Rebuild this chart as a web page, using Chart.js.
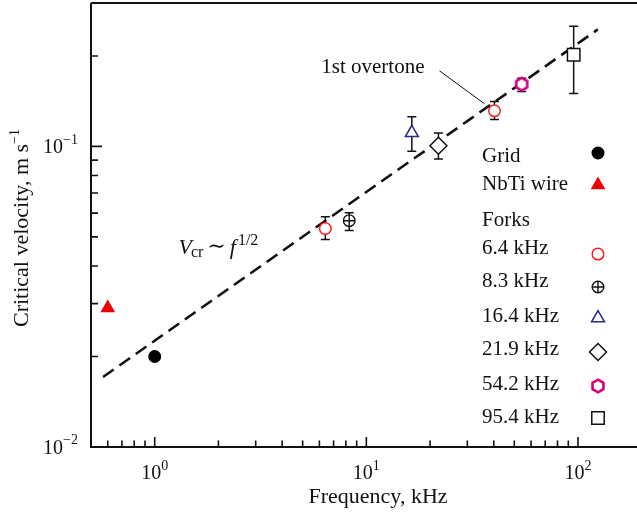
<!DOCTYPE html>
<html>
<head>
<meta charset="utf-8">
<script src="https://cdn.jsdelivr.net/npm/chart.js@4.4.1/dist/chart.umd.min.js"></script>
<style>
  html, body { margin: 0; padding: 0; background: #fff; }
  canvas { display: block; }
</style>
</head>
<body>
<canvas id="c" width="637" height="513"></canvas>
<script>
// Critical velocity against oscillation frequency (log–log)
const gridFreq = [1.0];
const gridVel = [0.020];
const wireFreq = [0.6];
const wireVel = [0.029];

const forkLabels = ['6.4 kHz', '8.3 kHz', '16.4 kHz', '21.9 kHz', '54.2 kHz', '95.4 kHz'];
const forkFreq = [6.4, 8.3, 16.4, 21.9, 54.2, 95.4];
const forkVel  = [0.0533, 0.0566, 0.111, 0.1005, 0.161, 0.2017];
const forkLow  = [0.049, 0.0525, 0.0963, 0.0908, 0.1523, 0.150];
const forkHigh = [0.0584, 0.0602, 0.1256, 0.1108, 0.1687, 0.2512];

// first overtone of the 6.4 kHz fork
const overtoneFreq = [40.3];
const overtoneVel  = [0.1314];
const overtoneLow  = [0.1229];
const overtoneHigh = [0.141];

// V_cr ~ f^(1/2) guide line
const fitFreq = [0.57, 124];
const fitVel  = [0.0171, 0.245];

const xTickExps = [0, 1, 2];
const yTickExps = [-2, -1];
const xLimits = [0.5, 190];
const yLimits = [0.01, 0.3];

const FONT = '"Liberation Serif", "Times New Roman", "DejaVu Serif", serif';
const INK = '#111';
const RED = '#ff1f1f';
const NAVY = '#2a2a8a';
const MAGENTA = '#d4007f';

function pts(xs, ys) { return xs.map((x, i) => ({ x: x, y: ys[i] })); }

// custom marker: hexagon
function makeHexagon() {
  const s = 20, c = document.createElement('canvas');
  c.width = s; c.height = s;
  const g = c.getContext('2d');
  g.strokeStyle = MAGENTA; g.lineWidth = 2.6; g.fillStyle = '#fff';
  g.beginPath();
  for (let i = 0; i < 6; i++) {
    const a = -Math.PI / 2 + i * Math.PI / 3;
    const px = s / 2 + 6.3 * Math.cos(a), py = s / 2 + 6.3 * Math.sin(a);
    if (i === 0) g.moveTo(px, py); else g.lineTo(px, py);
  }
  g.closePath(); g.fill(); g.stroke();
  return c;
}
const hexagon = makeHexagon();

// each fork marker is one or more stacked point styles
const forkStyles = [
  [{ pointStyle: 'circle',   radius: 5.8, borderColor: RED,  backgroundColor: '#fff', borderWidth: 1.5 }],
  [{ pointStyle: 'circle',   radius: 5.8, borderColor: '#111', backgroundColor: '#fff', borderWidth: 1.4 },
   { pointStyle: 'cross',    radius: 5.8, borderColor: '#111', backgroundColor: '#fff', borderWidth: 1.4 }],
  [{ pointStyle: 'triangle', radius: 7.5, borderColor: NAVY, backgroundColor: '#fff', borderWidth: 1.5 }],
  [{ pointStyle: 'rectRot',  radius: 8.5, borderColor: '#111', backgroundColor: '#fff', borderWidth: 1.5 }],
  [{ pointStyle: hexagon,    radius: 7,   borderColor: MAGENTA, backgroundColor: '#fff', borderWidth: 0 }],
  [{ pointStyle: 'rect',     radius: 8.8, borderColor: '#111', backgroundColor: '#fff', borderWidth: 1.5 }]
];
const gridStyle = [{ pointStyle: 'circle', radius: 6.5, borderColor: '#000', backgroundColor: '#000', borderWidth: 0 }];
const wireStyle = [{ pointStyle: 'triangle', radius: 8.5, borderColor: '#ee0000', backgroundColor: '#ee0000', borderWidth: 0 }];

function markerDataset(label, data, st, order) {
  return {
    label: label, data: data, showLine: false, order: order,
    pointStyle: st.pointStyle, pointRadius: st.radius, pointHoverRadius: st.radius,
    pointBorderColor: st.borderColor, pointBackgroundColor: st.backgroundColor,
    pointBorderWidth: st.borderWidth
  };
}

const datasets = [
  {
    label: 'fit', data: pts(fitFreq, fitVel), showLine: true, pointRadius: 0,
    borderColor: '#111', borderWidth: 2.6, borderDash: [13, 7], order: 20
  }
];
function addSeries(label, data, layers) {
  layers.forEach((st, j) => datasets.push(markerDataset(label, data, st, 2 - j)));
}
addSeries('Grid', pts(gridFreq, gridVel), gridStyle);
addSeries('NbTi wire', pts(wireFreq, wireVel), wireStyle);
forkFreq.forEach((f, i) => addSeries(forkLabels[i], [{ x: f, y: forkVel[i] }], forkStyles[i]));
addSeries('1st overtone', pts(overtoneFreq, overtoneVel), forkStyles[0]);

const errorSets = [
  { freq: forkFreq, low: forkLow, high: forkHigh },
  { freq: overtoneFreq, low: overtoneLow, high: overtoneHigh }
];

// superscript text helper
function textWithSup(ctx, base, sup, x, y, align, baseSize, supSize, rise) {
  ctx.font = baseSize + 'px ' + FONT;
  const wb = ctx.measureText(base).width;
  ctx.font = supSize + 'px ' + FONT;
  const ws = ctx.measureText(sup).width;
  let x0 = x;
  if (align === 'center') x0 = x - (wb + ws) / 2;
  else if (align === 'right') x0 = x - (wb + ws);
  ctx.textAlign = 'left';
  ctx.textBaseline = 'alphabetic';
  ctx.font = baseSize + 'px ' + FONT;
  ctx.fillText(base, x0, y);
  ctx.font = supSize + 'px ' + FONT;
  ctx.fillText(sup, x0 + wb, y - rise);
}

const errorBarPlugin = {
  id: 'errorBars',
  beforeDatasetsDraw(chart) {
    const { ctx, scales: { x, y } } = chart;
    ctx.save();
    ctx.strokeStyle = '#111';
    ctx.lineWidth = 1.5;
    errorSets.forEach(set => {
      set.freq.forEach((f, i) => {
        const px = x.getPixelForValue(f);
        const pl = y.getPixelForValue(set.low[i]);
        const ph = y.getPixelForValue(set.high[i]);
        ctx.beginPath();
        ctx.moveTo(px, pl); ctx.lineTo(px, ph);
        ctx.moveTo(px - 4.5, pl); ctx.lineTo(px + 4.5, pl);
        ctx.moveTo(px - 4.5, ph); ctx.lineTo(px + 4.5, ph);
        ctx.stroke();
      });
    });
    ctx.restore();
  }
};

const axesPlugin = {
  id: 'frameAxes',
  afterDatasetsDraw(chart) {
    const { ctx, chartArea: a, scales: { x, y } } = chart;
    ctx.save();
    ctx.strokeStyle = INK;
    ctx.lineWidth = 2;
    ctx.beginPath();
    ctx.moveTo(a.left, a.top); ctx.lineTo(a.right, a.top);
    ctx.moveTo(a.left, a.top); ctx.lineTo(a.left, a.bottom);
    ctx.lineTo(a.right, a.bottom);
    ctx.stroke();

    // inward ticks, major and minor
    ctx.lineWidth = 1.6;
    ctx.beginPath();
    for (let e = -1; e <= 2; e++) {
      for (let k = 1; k <= 9; k++) {
        const v = k * Math.pow(10, e);
        if (v <= xLimits[0] || v >= xLimits[1]) continue;
        const px = x.getPixelForValue(v);
        const len = k === 1 ? 10 : 6.5;
        ctx.moveTo(px, a.bottom); ctx.lineTo(px, a.bottom - len);
      }
    }
    for (let e = -2; e <= -1; e++) {
      for (let k = 1; k <= 9; k++) {
        const v = k * Math.pow(10, e);
        if (v <= yLimits[0] || v >= yLimits[1]) continue;
        const py = y.getPixelForValue(v);
        const len = k === 1 ? 11 : 7;
        ctx.moveTo(a.left, py); ctx.lineTo(a.left + len, py);
      }
    }
    ctx.stroke();

    // tick labels
    ctx.fillStyle = INK;
    xTickExps.forEach(e => {
      const px = x.getPixelForValue(Math.pow(10, e));
      textWithSup(ctx, '10', String(e), px, 478.5, 'center', 20, 14, 8.5);
    });
    yTickExps.forEach(e => {
      const py = y.getPixelForValue(Math.pow(10, e));
      textWithSup(ctx, '10', '\u2212' + Math.abs(e), 78, py + 6.8, 'right', 20, 14, 9.5);
    });

    // axis titles
    ctx.font = '22px ' + FONT;
    ctx.textAlign = 'center';
    ctx.textBaseline = 'alphabetic';
    ctx.fillText('Frequency, kHz', 378, 502.5);

    ctx.save();
    ctx.translate(27.5, 327);
    ctx.rotate(-Math.PI / 2);
    textWithSup(ctx, 'Critical velocity, m s', '\u22121', 0, 0, 'left', 22, 14, 9);
    ctx.restore();

    ctx.restore();
  }
};

const annotationPlugin = {
  id: 'notes',
  afterDatasetsDraw(chart) {
    const { ctx, scales: { x, y } } = chart;
    ctx.save();
    ctx.fillStyle = INK;
    ctx.strokeStyle = INK;

    // overtone label with leader line
    const ox = x.getPixelForValue(overtoneFreq[0]);
    const oy = y.getPixelForValue(overtoneVel[0]);
    ctx.font = '21px ' + FONT;
    ctx.textAlign = 'right';
    ctx.textBaseline = 'alphabetic';
    ctx.fillText('1st overtone', ox - 70, oy - 37.7);
    ctx.lineWidth = 1;
    ctx.beginPath();
    ctx.moveTo(ox - 55, oy - 40);
    ctx.lineTo(ox - 10, oy - 7);
    ctx.stroke();

    // power-law label: V_cr ~ f^(1/2)
    let cx = 178.5;
    const by = 254;
    ctx.textAlign = 'left';
    ctx.font = 'italic 22px ' + FONT;
    ctx.fillText('V', cx, by);
    cx += ctx.measureText('V').width - 1;
    ctx.font = '16px ' + FONT;
    ctx.fillText('cr', cx, by + 3);
    cx += ctx.measureText('cr').width + 4;
    ctx.font = '22px "DejaVu Serif", serif';
    ctx.fillText('\u223C', cx, by - 1);
    cx += ctx.measureText('\u223C').width + 4;
    ctx.font = 'italic 22px ' + FONT;
    ctx.fillText('f', cx, by);
    cx += ctx.measureText('f').width + 2;
    ctx.font = '16px ' + FONT;
    ctx.fillText('1/2', cx, by - 9);

    ctx.restore();
  }
};

// legend entries: label text, index of the series (or null for a heading)
const legendLabels = ['Grid', 'NbTi wire', 'Forks'].concat(forkLabels);
const legendSeries = ['Grid', 'NbTi wire', null].concat(forkLabels);
const legendTextBase = [162.3, 190, 226, 254, 287.3, 321.7, 355, 390, 423.3];
const legendMarkY = [153, 185, null, 254, 287, 318, 352, 386, 418];

const legendPlugin = {
  id: 'sideLegend',
  afterDraw(chart) {
    const ctx = chart.ctx;
    ctx.save();
    ctx.textAlign = 'left';
    ctx.textBaseline = 'alphabetic';
    legendLabels.forEach((lab, i) => {
      ctx.fillStyle = INK;
      ctx.font = '21px ' + FONT;
      ctx.fillText(lab, 482, legendTextBase[i]);
      const name = legendSeries[i];
      if (name === null) return;
      chart.data.datasets
        .filter(ds => ds.label === name)
        .sort((p, q) => q.order - p.order)
        .forEach(ds => {
          ctx.fillStyle = ds.pointBackgroundColor;
          ctx.strokeStyle = ds.pointBorderColor;
          ctx.lineWidth = ds.pointBorderWidth;
          Chart.helpers.drawPoint(ctx, {
            pointStyle: ds.pointStyle, radius: ds.pointRadius, rotation: 0,
            borderWidth: ds.pointBorderWidth
          }, 598, legendMarkY[i]);
        });
    });
    ctx.restore();
  }
};

new Chart(document.getElementById('c'), {
  type: 'scatter',
  data: { datasets: datasets },
  options: {
    responsive: false,
    animation: false,
    layout: { autoPadding: false, padding: { left: 91, top: 3, right: 0, bottom: 66 } },
    plugins: { legend: { display: false }, tooltip: { enabled: false } },
    scales: {
      x: { type: 'logarithmic', min: xLimits[0], max: xLimits[1], display: false },
      y: { type: 'logarithmic', min: yLimits[0], max: yLimits[1], display: false }
    }
  },
  plugins: [errorBarPlugin, axesPlugin, annotationPlugin, legendPlugin]
});
</script>
</body>
</html>
